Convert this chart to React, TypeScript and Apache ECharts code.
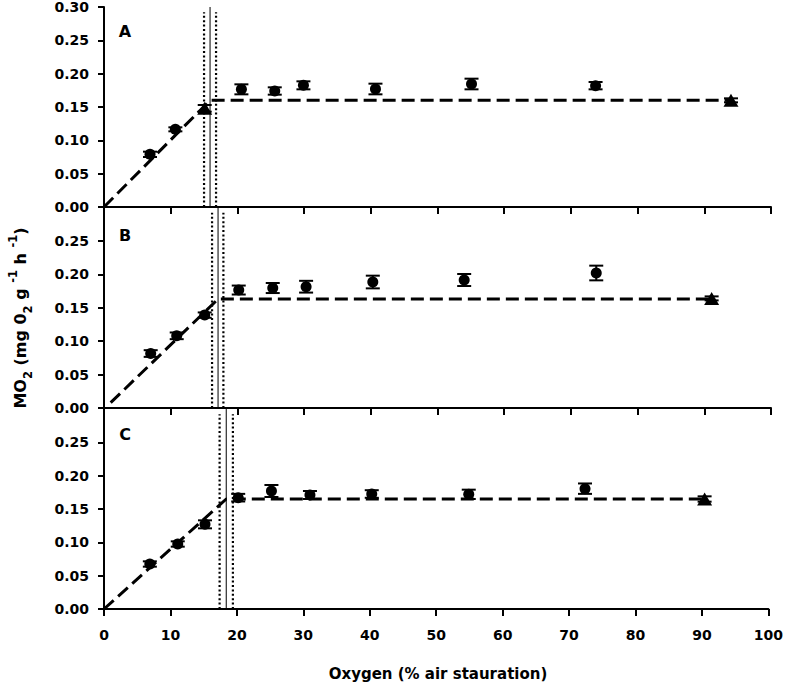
import React, { useEffect, useRef } from "react";
import * as echarts from "echarts";

// ---------- data ----------
const panelNames = ["A", "B", "C"];

const aX = [6.9, 10.7, 20.6, 25.6, 29.9, 40.7, 55.1, 73.7];
const aY = [0.079, 0.1165, 0.1765, 0.174, 0.1825, 0.177, 0.1845, 0.182];
const aErr = [0.004, 0.003, 0.0075, 0.0055, 0.006, 0.008, 0.008, 0.0055];
const aTriX = [15.1, 94.0];
const aTriY = [0.148, 0.16];
const aTriErr = [0.005, 0.003];
const aBreak = 15.9;
const aCiLow = 15.0;
const aCiHigh = 16.8;
const aPlateau = 0.16;
const aLineStart = [0, 0];

const bX = [7.0, 10.9, 15.1, 20.2, 25.3, 30.3, 40.3, 54.0, 73.8];
const bY = [0.0815, 0.108, 0.139, 0.1765, 0.1795, 0.1815, 0.1885, 0.1915, 0.202];
const bErr = [0.005, 0.005, 0.004, 0.0067, 0.0075, 0.0088, 0.0095, 0.009, 0.011];
const bTriX = [91.1];
const bTriY = [0.164];
const bTriErr = [0.003];
const bBreak = 17.1;
const bCiLow = 16.2;
const bCiHigh = 17.9;
const bPlateau = 0.163;
const bLineStart = [1.0, 0.008];

const cX = [6.9, 11.1, 15.2, 20.2, 25.2, 31.0, 40.3, 54.9, 72.4];
const cY = [0.0675, 0.0975, 0.127, 0.167, 0.177, 0.171, 0.1725, 0.172, 0.1805];
const cErr = [0.004, 0.004, 0.006, 0.0057, 0.009, 0.006, 0.0057, 0.007, 0.0078];
const cTriX = [90.4];
const cTriY = [0.165];
const cTriErr = [0.004];
const cBreak = 18.4;
const cCiLow = 17.4;
const cCiHigh = 19.4;
const cPlateau = 0.165;
const cLineStart = [0, 0];

const xMin = 0;
const xMax = 100;
const xStep = 10;
const yMin = 0;
const yMax = 0.3;
const yStep = 0.05;
const dottedTop = 0.292;

const xTitle = "Oxygen (% air stauration)";

// ---------- layout ----------
const FONT = "'DejaVu Sans', sans-serif";
const gridLeft = 104;
const gridWidth = 667;
const gridTops = [7, 207.5, 409];
const gridHeights = [200, 200.5, 200];

const panels = [
  { x: aX, y: aY, err: aErr, tx: aTriX, ty: aTriY, terr: aTriErr, brk: aBreak, lo: aCiLow, hi: aCiHigh, plat: aPlateau, start: aLineStart },
  { x: bX, y: bY, err: bErr, tx: bTriX, ty: bTriY, terr: bTriErr, brk: bBreak, lo: bCiLow, hi: bCiHigh, plat: bPlateau, start: bLineStart },
  { x: cX, y: cY, err: cErr, tx: cTriX, ty: cTriY, terr: cTriErr, brk: cBreak, lo: cCiLow, hi: cCiHigh, plat: cPlateau, start: cLineStart },
];

const errorRender = (params: any, api: any) => {
  const x = api.value(0);
  const p1 = api.coord([x, api.value(1)]);
  const p2 = api.coord([x, api.value(2)]);
  const w = 7;
  const style = { stroke: "#000", lineWidth: 2 };
  return {
    type: "group",
    children: [
      { type: "line", shape: { x1: p1[0], y1: p1[1], x2: p2[0], y2: p2[1] }, style },
      { type: "line", shape: { x1: p1[0] - w, y1: p1[1], x2: p1[0] + w, y2: p1[1] }, style },
      { type: "line", shape: { x1: p2[0] - w, y1: p2[1], x2: p2[0] + w, y2: p2[1] }, style },
    ],
  };
};

function buildOption() {
  const grid: any[] = [];
  const xAxis: any[] = [];
  const yAxis: any[] = [];
  const series: any[] = [];
  panels.forEach((p, i) => {
    grid.push({ left: gridLeft, top: gridTops[i], width: gridWidth, height: gridHeights[i], containLabel: false });
    xAxis.push({
      type: "value",
      gridIndex: i,
      min: xMin,
      max: xMax,
      interval: xStep,
      axisLine: { show: true, onZero: false, lineStyle: { color: "#000", width: 2 } },
      axisTick: { show: true, length: 7, lineStyle: { color: "#000", width: 2 } },
      axisLabel: {
        show: i === 2,
        color: "#000",
        fontFamily: FONT,
        fontWeight: "bold",
        fontSize: 14,
        margin: 19,
      },
      splitLine: { show: false },
    });
    yAxis.push({
      type: "value",
      gridIndex: i,
      min: yMin,
      max: yMax,
      interval: yStep,
      axisLine: { show: true, onZero: false, lineStyle: { color: "#000", width: 2 } },
      axisTick: { show: true, length: 6, lineStyle: { color: "#000", width: 2 } },
      axisLabel: {
        color: "#000",
        fontFamily: FONT,
        fontWeight: "bold",
        fontSize: 14,
        margin: 15,
        showMaxLabel: i === 0,
        formatter: (v: number) => v.toFixed(2),
      },
      splitLine: { show: false },
    });
    const errData = p.x.map((x, k) => [x, p.y[k] - p.err[k], p.y[k] + p.err[k]]);
    const triErrData = p.tx.map((x, k) => [x, p.ty[k] - p.terr[k], p.ty[k] + p.terr[k]]);
    const lastX = p.tx[p.tx.length - 1];
    // vertical lines
    series.push({
      type: "line",
      xAxisIndex: i,
      yAxisIndex: i,
      data: [[p.brk, yMin], [p.brk, yMax]],
      symbol: "none",
      lineStyle: { color: "#000", width: 1 },
      z: 1,
    });
    [p.lo, p.hi].forEach((xv) => {
      series.push({
        type: "line",
        xAxisIndex: i,
        yAxisIndex: i,
        data: [[xv, yMin], [xv, dottedTop]],
        symbol: "none",
        lineStyle: { color: "#000", width: 2.2, type: [2, 2.4] },
        z: 1,
      });
    });
    // fit line
    series.push({
      type: "line",
      xAxisIndex: i,
      yAxisIndex: i,
      data: [p.start, [p.brk, p.plat], [lastX, p.plat]],
      symbol: "none",
      lineStyle: { color: "#000", width: 3, type: [13, 6] },
      z: 2,
    });
    series.push({
      type: "custom",
      xAxisIndex: i,
      yAxisIndex: i,
      renderItem: errorRender,
      data: errData.concat(triErrData),
      encode: { x: 0, y: [1, 2] },
      z: 3,
    });
    series.push({
      type: "scatter",
      xAxisIndex: i,
      yAxisIndex: i,
      data: p.x.map((x, k) => [x, p.y[k]]),
      symbol: "circle",
      symbolSize: 11,
      itemStyle: { color: "#000", opacity: 1 },
      z: 4,
    });
    series.push({
      type: "scatter",
      xAxisIndex: i,
      yAxisIndex: i,
      data: p.tx.map((x, k) => [x, p.ty[k]]),
      symbol: "triangle",
      symbolSize: [15, 13],
      itemStyle: { color: "#000", opacity: 1 },
      z: 4,
    });
  });

  const panelLabelY = [31, 235, 434];
  const graphic: any[] = panelNames.map((n, i) => ({
    type: "text",
    x: 125,
    y: panelLabelY[i],
    style: {
      text: n,
      fill: "#000",
      font: `bold 16px ${FONT}`,
      align: "center",
      verticalAlign: "middle",
    },
  }));
  graphic.push({
    type: "text",
    x: 438,
    y: 674,
    style: {
      text: xTitle,
      fill: "#000",
      font: `bold 15px ${FONT}`,
      align: "center",
      verticalAlign: "middle",
    },
  });
  graphic.push({
    type: "text",
    x: 20,
    y: 318,
    rotation: Math.PI / 2,
    style: {
      text: "{b|MO}{s|2}{b| (mg 0}{s|2}{b| g }{p|-1}{b| h }{p|-1}{b|)}",
      fill: "#000",
      align: "center",
      verticalAlign: "middle",
      rich: {
        b: { fontFamily: FONT, fontWeight: "bold", fontSize: 16, lineHeight: 27, fill: "#000" },
        s: { fontFamily: FONT, fontWeight: "bold", fontSize: 11.5, lineHeight: 14, verticalAlign: "bottom", fill: "#000" },
        p: { fontFamily: FONT, fontWeight: "bold", fontSize: 11.5, lineHeight: 14, verticalAlign: "top", fill: "#000" },
      },
    },
  });

  return {
    animation: false,
    backgroundColor: "#fff",
    grid,
    xAxis,
    yAxis,
    series,
    graphic,
  };
}

export default function App() {
  const ref = useRef<HTMLDivElement>(null);
  useEffect(() => {
    if (!ref.current) return;
    const chart = echarts.init(ref.current, undefined, { renderer: "svg" });
    chart.setOption(buildOption() as any);
    return () => chart.dispose();
  }, []);
  return (
    <div
      ref={ref}
      style={{ position: "fixed", left: 0, top: 0, width: 786, height: 686, background: "#fff" }}
    />
  );
}
